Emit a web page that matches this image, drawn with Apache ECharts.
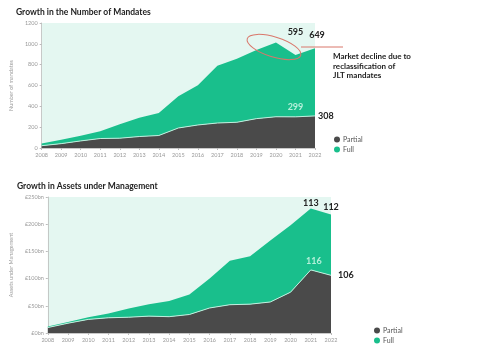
<!DOCTYPE html>
<html>
<head>
<meta charset="utf-8">
<script src="https://cdn.jsdelivr.net/npm/echarts@6/dist/echarts.min.js"></script>
<style>
  html, body { margin: 0; padding: 0; background: #fff; }
  #main { width: 500px; height: 351px; }
</style>
</head>
<body>
<div id="main"></div>
<script>
// data
var years = ['2008','2009','2010','2011','2012','2013','2014','2015','2016','2017','2018','2019','2020','2021','2022'];

// number of mandates
var mandatesPartial = [22, 42, 68, 91, 94, 110, 120, 192, 221, 240, 247, 282, 300, 299, 308];
var mandatesFull    = [22, 38, 50, 70, 134, 180, 215, 306, 381, 550, 611, 660, 712, 595, 649];

// assets under management (£bn)
var aumPartial = [10, 18, 25, 28, 29, 31, 30, 34, 46, 52, 53, 57, 75, 116, 106];
var aumFull    = [2, 2, 4, 8, 16, 22, 29, 37, 54, 81, 88, 113, 123, 113, 112];

var mandateTicks = ['0', '200', '400', '600', '800', '1000', '1200'];
var aumTicks = ['£0bn', '£50bn', '£100bn', '£150bn', '£200bn', '£250bn'];

var cPartial = '#4a4a4a';
var cFull = '#19bf8c';
var cBg = '#e4f7f1';
var font = 'Lato, "Noto Sans", sans-serif';

// put a label only on some points
function withLabels(values, labels) {
    return values.map(function (v, i) {
        if (labels[i]) return { value: v, label: Object.assign({ show: true }, labels[i]) };
        return v;
    });
}

var valLabel = { fontFamily: font, fontSize: 9, fontWeight: 'bold', color: '#222' };

var chart = echarts.init(document.getElementById('main'));

function axisX(gi) {
    return {
        type: 'category', gridIndex: gi, data: years, boundaryGap: false,
        axisLine: { lineStyle: { color: '#bbb', width: 0.8 } },
        axisTick: { show: true, length: 2, lineStyle: { color: '#bbb' } },
        axisLabel: { color: '#999', fontSize: 5.5, fontFamily: font, margin: 4 }
    };
}

function areaSeries(name, stack, gi, color, lineStyle, data) {
    return {
        name: name, type: 'line', xAxisIndex: gi, yAxisIndex: gi, stack: stack,
        symbol: 'circle', symbolSize: 0, showSymbol: true,
        color: color, lineStyle: lineStyle, areaStyle: { color: color, opacity: 1 },
        label: { show: false },
        data: data
    };
}

var legendStyle = {
    data: ['Partial', 'Full'], orient: 'vertical', icon: 'circle', padding: 0,
    itemWidth: 6, itemHeight: 6, itemGap: 3, height: 40,
    textStyle: { fontFamily: font, fontSize: 7, color: '#555', padding: [0, 0, 0, -2] }
};

var option = {
    animation: false,
    backgroundColor: '#fff',
    title: [
        { text: 'Growth in the Number of Mandates', left: 11, top: 3,
          textStyle: { fontFamily: font, fontSize: 8.5, fontWeight: 'bold', color: '#222' } },
        { text: 'Growth in Assets under Management', left: 12, top: 177,
          textStyle: { fontFamily: font, fontSize: 8.5, fontWeight: 'bold', color: '#222' } }
    ],
    grid: [
        { left: 39, top: 23, width: 276, height: 125, show: true, backgroundColor: cBg, borderWidth: 0 },
        { left: 41, top: 197, width: 290, height: 136, show: true, backgroundColor: cBg, borderWidth: 0 }
    ],
    legend: [
        Object.assign({ left: 334, top: 136 }, legendStyle),
        Object.assign({ left: 374, top: 327 }, legendStyle)
    ],
    xAxis: [axisX(0), axisX(1)],
    yAxis: [
        { type: 'value', gridIndex: 0, min: 0, max: 1200, interval: 200,
          name: 'Number of mandates', nameLocation: 'middle', nameGap: 17,
          nameTextStyle: { color: '#999', fontSize: 5.5, fontFamily: font },
          axisLine: { show: true, lineStyle: { color: '#bbb', width: 0.8 } },
          axisTick: { show: true, length: 2, lineStyle: { color: '#bbb' } },
          splitLine: { show: false },
          axisLabel: { color: '#999', fontSize: 5.5, fontFamily: font, margin: 4,
                       formatter: function (v) { return mandateTicks[v / 200]; } } },
        { type: 'value', gridIndex: 1, min: 0, max: 250, interval: 50,
          name: 'Assets under Management', nameLocation: 'middle', nameGap: 23,
          nameTextStyle: { color: '#999', fontSize: 5.5, fontFamily: font },
          axisLine: { show: true, lineStyle: { color: '#bbb', width: 0.8 } },
          axisTick: { show: true, length: 2, lineStyle: { color: '#bbb' } },
          splitLine: { show: false },
          axisLabel: { color: '#999', fontSize: 5.5, fontFamily: font, margin: 4,
                       formatter: function (v) { return aumTicks[v / 50]; } } }
    ],
    series: [
        areaSeries('Partial', 'm', 0, cPartial, { color: '#bfeedd', width: 1 },
            withLabels(mandatesPartial, {
                13: Object.assign({}, valLabel, { position: 'top', distance: 5, color: '#b5f0da' }),
                14: Object.assign({}, valLabel, { position: 'right', distance: 3 })
            })),
        areaSeries('Full', 'm', 0, cFull, { width: 0 },
            withLabels(mandatesFull, {
                13: Object.assign({}, valLabel, { position: 'top', distance: 18 }),
                14: Object.assign({}, valLabel, { position: 'top', distance: 9, offset: [2, 0] })
            })),
        areaSeries('Partial', 'a', 1, cPartial, { color: '#bfeedd', width: 1 },
            withLabels(aumPartial, {
                13: Object.assign({}, valLabel, { position: 'top', distance: 4, offset: [3, 0], color: '#b5f0da' }),
                14: Object.assign({}, valLabel, { position: 'right', distance: 7 })
            })),
        areaSeries('Full', 'a', 1, cFull, { width: 0 },
            withLabels(aumFull, {
                13: Object.assign({}, valLabel, { position: 'top', distance: 1 }),
                14: Object.assign({}, valLabel, { position: 'top', distance: 3 })
            }))
    ],
    graphic: [
        // red ring around the drop and its pointer line
        { type: 'ellipse', x: 274, y: 47, rotation: -0.3, z: 100,
          shape: { cx: 0, cy: 0, rx: 28, ry: 10 },
          style: { fill: 'none', stroke: '#d9776b', lineWidth: 1 } },
        { type: 'line', z: 100, shape: { x1: 301, y1: 47, x2: 343, y2: 47 },
          style: { stroke: '#d9776b', lineWidth: 1 } },
        { type: 'text', left: 333, top: 52, z: 100,
          style: { text: 'Market decline due to\nreclassification of\nJLT mandates',
                   fontFamily: font, fontSize: 8, fontWeight: 'bold', fill: '#222', lineHeight: 9.5 } }
    ]
};

chart.setOption(option);
</script>
</body>
</html>
